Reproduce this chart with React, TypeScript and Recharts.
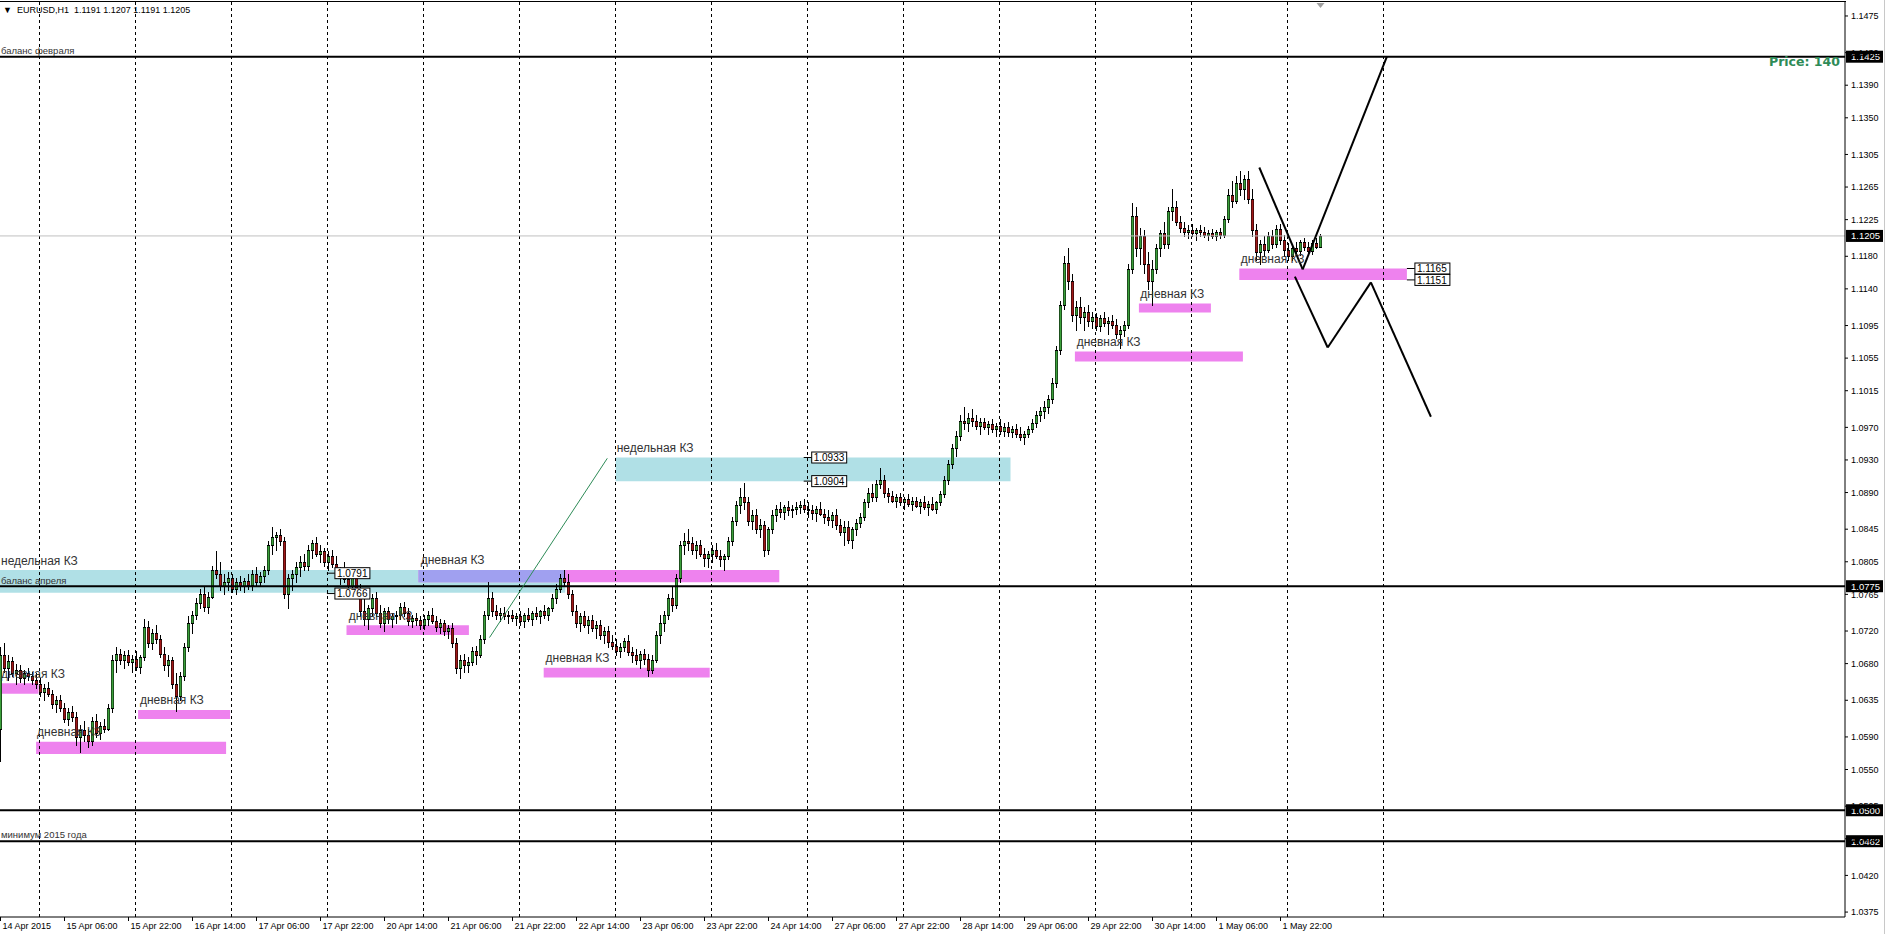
import React from 'react';
import { ComposedChart, Bar, XAxis, YAxis, ReferenceLine, ReferenceArea, ReferenceDot } from 'recharts';

const FONT = "'Liberation Sans', Arial, sans-serif";

// OHLC per hourly bar, in pips above 1.0000 : [open, high, low, close]
const apr14 = [[600,700,560,690],[690,705,670,675],[675,690,660,683],[683,688,665,668],[668,680,655,672],[672,678,658,662],[662,672,655,668],[668,675,660,665],[665,670,655,660],[660,668,650,655]];
const apr15 = [[655,662,640,645],[645,655,635,650],[650,658,640,643],[643,648,625,630],[630,640,620,635],[635,642,622,626],[626,632,608,612],[612,625,605,620],[620,628,610,615],[615,620,580,590],[590,605,572,598],[598,610,585,592],[592,600,578,585],[585,615,580,610],[610,618,590,595],[595,608,588,604],[604,612,596,600],[600,630,598,625],[625,690,620,685],[685,700,670,692],[692,698,680,685],[685,695,675,690],[690,697,678,682],[682,690,670,686]];
const apr16 = [[686,695,672,676],[676,690,668,688],[688,735,685,725],[725,732,700,705],[705,722,698,718],[718,728,705,710],[710,715,688,692],[692,700,672,678],[678,690,665,684],[684,688,650,655],[655,668,622,640],[640,670,635,665],[665,705,660,700],[700,738,695,730],[730,745,718,740],[740,760,735,755],[755,772,748,765],[765,775,745,750],[750,768,742,762],[762,800,760,795],[795,818,785,790],[790,805,770,775],[775,790,765,780],[780,792,770,785]];
const apr17 = [[785,790,768,772],[772,785,765,780],[780,788,770,775],[775,785,768,782],[782,790,772,776],[776,795,770,790],[790,798,775,780],[780,792,775,788],[788,800,780,795],[795,830,790,825],[825,848,815,835],[835,842,820,838],[838,845,825,830],[830,835,760,765],[765,790,748,785],[785,795,770,790],[790,805,780,798],[798,812,788,805],[805,815,795,800],[800,825,795,820],[820,832,810,828],[828,835,812,815],[815,825,805,818],[818,822,800,805]];
const apr20 = [[805,818,795,812],[812,820,798,802],[802,812,785,790],[790,798,778,795],[795,805,780,784],[784,792,770,775],[775,790,768,788],[788,795,765,770],[770,778,740,745],[745,760,728,735],[735,752,722,748],[748,765,740,760],[760,768,738,742],[742,752,725,730],[730,748,720,745],[745,750,730,735],[735,742,725,738],[738,745,730,740],[740,755,735,750],[750,756,738,742],[742,748,728,732],[732,740,725,736],[736,742,728,733],[733,738,722,728]];
const apr21 = [[728,740,722,735],[735,745,728,740],[740,748,730,732],[732,738,720,725],[725,735,718,730],[730,734,715,720],[720,728,712,724],[724,730,700,705],[705,712,668,675],[675,690,662,685],[685,692,670,678],[678,688,670,682],[682,700,678,695],[695,702,680,690],[690,715,688,710],[710,745,705,740],[740,780,735,760],[760,768,738,745],[745,752,735,740],[740,748,732,742],[742,750,735,738],[738,745,730,740],[740,746,732,736],[736,742,728,738]];
const apr22 = [[738,745,728,732],[732,742,725,740],[740,748,732,735],[735,745,728,742],[742,750,735,738],[738,746,730,744],[744,752,736,740],[740,750,734,748],[748,765,745,760],[760,778,755,772],[772,790,768,785],[785,795,775,780],[780,790,760,765],[765,770,740,745],[745,752,725,730],[730,742,720,738],[738,745,725,728],[728,738,718,734],[734,740,720,724],[724,732,712,728],[728,734,710,715],[715,725,705,720],[720,726,700,706],[706,715,698,702]];
const apr23 = [[702,710,690,695],[695,705,688,700],[700,712,695,708],[708,715,690,694],[694,700,682,690],[690,698,680,685],[685,695,675,692],[692,698,680,686],[686,692,665,672],[672,690,668,685],[685,720,682,715],[715,740,705,730],[730,745,720,740],[740,765,735,760],[760,775,745,752],[752,790,748,785],[785,830,780,825],[825,840,815,830],[830,845,820,828],[828,835,815,820],[820,830,810,825],[825,832,812,815],[815,822,800,810],[810,818,798,815]];
const apr24 = [[815,825,805,820],[820,828,810,812],[812,820,800,808],[808,815,795,812],[812,835,808,830],[830,860,825,855],[855,880,850,875],[875,895,865,885],[885,902,870,878],[878,885,850,855],[855,868,845,862],[862,870,840,845],[845,858,835,850],[850,855,812,820],[820,848,815,845],[845,868,840,862],[862,875,855,870],[870,878,860,866],[866,875,858,872],[872,880,862,868],[868,875,860,870],[870,878,864,872],[872,880,865,875],[875,882,866,870]];
const apr27 = [[870,878,860,868],[868,875,858,865],[865,874,855,870],[870,878,862,864],[864,870,852,860],[860,868,850,856],[856,866,848,862],[862,870,845,850],[850,858,838,842],[842,855,825,848],[848,855,828,832],[832,848,822,845],[845,858,838,852],[852,865,848,860],[860,882,856,878],[878,895,872,890],[890,900,880,885],[885,905,880,900],[900,920,895,905],[905,912,885,890],[890,896,878,886],[886,892,878,880],[880,888,872,885],[885,890,875,878]];
const apr28 = [[878,885,870,882],[882,888,874,876],[876,884,868,880],[880,885,872,874],[874,882,865,878],[878,886,870,872],[872,880,862,876],[876,884,868,870],[870,880,865,878],[878,892,875,888],[888,910,885,905],[905,930,900,925],[925,950,920,945],[945,965,935,960],[960,985,955,978],[978,995,968,975],[975,988,965,982],[982,992,972,978],[978,985,968,972],[972,982,962,976],[976,982,968,970],[970,978,962,974],[974,980,964,968],[968,975,960,972]];
const apr29 = [[972,980,962,966],[966,975,960,970],[970,976,960,964],[964,972,958,968],[968,974,958,962],[962,970,955,958],[958,966,950,962],[962,972,958,968],[968,980,964,975],[975,990,970,985],[985,995,978,990],[990,1002,982,995],[995,1010,988,1005],[1005,1030,1000,1025],[1025,1070,1020,1065],[1065,1125,1060,1120],[1120,1180,1115,1172],[1172,1190,1140,1150],[1150,1158,1100,1108],[1108,1125,1090,1118],[1118,1130,1098,1105],[1105,1118,1090,1112],[1112,1120,1095,1100],[1100,1112,1092,1106]];
const apr30 = [[1106,1110,1090,1095],[1095,1108,1088,1104],[1104,1112,1095,1098],[1098,1105,1085,1100],[1100,1108,1092,1096],[1096,1103,1080,1085],[1085,1095,1068,1090],[1090,1100,1082,1096],[1096,1170,1092,1165],[1165,1245,1160,1230],[1230,1240,1180,1190],[1190,1215,1170,1205],[1205,1212,1160,1170],[1170,1185,1140,1150],[1150,1175,1120,1165],[1165,1195,1160,1190],[1190,1212,1180,1208],[1208,1222,1190,1195],[1195,1240,1190,1235],[1235,1262,1225,1240],[1240,1248,1218,1222],[1222,1230,1210,1215],[1215,1222,1205,1210],[1210,1218,1202,1212]];
const may01 = [[1212,1220,1205,1208],[1208,1215,1200,1212],[1212,1218,1205,1210],[1210,1216,1204,1206],[1206,1212,1200,1208],[1208,1214,1202,1205],[1205,1212,1200,1210],[1210,1215,1203,1206],[1206,1230,1204,1226],[1226,1262,1222,1255],[1255,1272,1240,1248],[1248,1278,1245,1270],[1270,1285,1255,1262],[1262,1280,1250,1275],[1275,1285,1245,1250],[1250,1262,1205,1212],[1212,1220,1175,1185],[1185,1200,1170,1195],[1195,1205,1180,1188],[1188,1210,1185,1205],[1205,1212,1190,1195],[1195,1218,1192,1214],[1214,1220,1195,1200],[1200,1206,1180,1188]];
const may04 = [[1188,1196,1175,1180],[1180,1192,1176,1190],[1190,1198,1184,1186],[1186,1200,1182,1197],[1197,1202,1188,1192],[1192,1198,1184,1186],[1186,1200,1183,1196],[1196,1202,1190,1191],[1191,1207,1191,1205]];

const dayBlocks = [apr14, apr15, apr16, apr17, apr20, apr21, apr22, apr23, apr24, apr27, apr28, apr29, apr30, may01, may04];
const candles = dayBlocks.flat().map((b, i) => ({ i, o: 1 + b[0] / 10000, h: 1 + b[1] / 10000, l: 1 + b[2] / 10000, c: 1 + b[3] / 10000 }));

const xLabels = ['14 Apr 2015', '15 Apr 06:00', '15 Apr 22:00', '16 Apr 14:00', '17 Apr 06:00', '17 Apr 22:00', '20 Apr 14:00', '21 Apr 06:00', '21 Apr 22:00', '22 Apr 14:00', '23 Apr 06:00', '23 Apr 22:00', '24 Apr 14:00', '27 Apr 06:00', '27 Apr 22:00', '28 Apr 14:00', '29 Apr 06:00', '29 Apr 22:00', '30 Apr 14:00', '1 May 06:00', '1 May 22:00'];
const xLabelBars = [0, 16, 32, 48, 64, 80, 96, 112, 128, 144, 160, 176, 192, 208, 224, 240, 256, 272, 288, 304, 320];
const daySeparators = [9.75, 33.75, 57.75, 81.75, 105.75, 129.75, 153.75, 177.75, 201.75, 225.75, 249.75, 273.75, 297.75, 321.75, 345.75];
const yTicks = [1.1475, 1.143, 1.139, 1.135, 1.1305, 1.1265, 1.1225, 1.118, 1.114, 1.1095, 1.1055, 1.1015, 1.097, 1.093, 1.089, 1.0845, 1.0805, 1.0765, 1.072, 1.068, 1.0635, 1.059, 1.055, 1.0505, 1.0465, 1.042, 1.0375];

const xDomain = [-0.125, 461.125];
const yDomain = [1.036895, 1.149215];

const priceLines = [1.1425, 1.0775, 1.05, 1.0462];
const currentPrice = 1.1205;

const CYAN = '#B0E0E6';
const VIOLET = '#EE82EE';
const weeklyZones = [
  { x1: -0.125, x2: 141.2, y1: 1.0767, y2: 1.0795 },
  { x1: 153.8, x2: 252.5, y1: 1.0904, y2: 1.0933 },
];
const dailyZones = [
  { x1: -0.125, x2: 9.5, y1: 1.0643, y2: 1.0656 },
  { x1: 8.9, x2: 56.4, y1: 1.0569, y2: 1.0584 },
  { x1: 34.4, x2: 57.4, y1: 1.0612, y2: 1.0623 },
  { x1: 86.5, x2: 117.1, y1: 1.0715, y2: 1.0727 },
  { x1: 104.5, x2: 194.7, y1: 1.078, y2: 1.0795 },
  { x1: 135.8, x2: 177.3, y1: 1.0663, y2: 1.0675 },
  { x1: 268.6, x2: 310.6, y1: 1.1051, y2: 1.1063 },
  { x1: 284.6, x2: 302.6, y1: 1.1111, y2: 1.1122 },
  { x1: 309.7, x2: 351.6, y1: 1.1151, y2: 1.1165 },
];

const notes = [
  { x: -0.125, y: 1.1428, text: 'баланс февраля', size: 9.5 },
  { x: -0.125, y: 1.0778, text: 'баланс апреля', size: 9.5 },
  { x: -0.125, y: 1.0466, text: 'минимум 2015 года', size: 9.5 },
  { x: -0.125, y: 1.0801, text: 'недельная КЗ', size: 12 },
  { x: 153.8, y: 1.094, text: 'недельная КЗ', size: 12 },
  { x: -0.125, y: 1.0662, text: 'дневная КЗ', size: 12 },
  { x: 8.9, y: 1.0591, text: 'дневная КЗ', size: 12 },
  { x: 34.6, y: 1.063, text: 'дневная КЗ', size: 12 },
  { x: 86.8, y: 1.0734, text: 'дневная КЗ', size: 12 },
  { x: 104.8, y: 1.0802, text: 'дневная КЗ', size: 12 },
  { x: 136, y: 1.0682, text: 'дневная КЗ', size: 12 },
  { x: 268.8, y: 1.107, text: 'дневная КЗ', size: 12 },
  { x: 284.7, y: 1.1129, text: 'дневная КЗ', size: 12 },
  { x: 309.8, y: 1.1172, text: 'дневная КЗ', size: 12 },
];

const priceTags = [
  { x: 81.6, y: 1.0791, text: '1.0791' },
  { x: 81.6, y: 1.0766, text: '1.0766' },
  { x: 200.8, y: 1.0933, text: '1.0933' },
  { x: 200.8, y: 1.0904, text: '1.0904' },
  { x: 351.6, y: 1.1165, text: '1.1165' },
  { x: 351.6, y: 1.1151, text: '1.1151' },
];

const forecastUp = [[314.7, 1.1289], [325.55, 1.1164], [346.6, 1.1425]];
const forecastDown = [[323.6, 1.1155], [331.8, 1.1068], [342.6, 1.1148], [357.6, 1.0983]];
const greenTrend = [[122.25, 1.0712], [151.7, 1.0932]];

const toSegments = (pts: number[][]) => pts.slice(1).map((p, k) => [{ x: pts[k][0], y: pts[k][1] }, { x: p[0], y: p[1] }]);

const overlap = {
  x1: Math.max(weeklyZones[0].x1, dailyZones[4].x1),
  x2: Math.min(weeklyZones[0].x2, dailyZones[4].x2),
  y1: Math.max(weeklyZones[0].y1, dailyZones[4].y1),
  y2: Math.min(weeklyZones[0].y2, dailyZones[4].y2),
};

const UP = '#3aa03a';
const DOWN = '#a01818';

const Candle = (props: any) => {
  const { x, y, width, height, payload } = props;
  if (!payload) return null;
  const top = Math.min(y, y + height);
  const hpx = Math.abs(height);
  const span = payload.h - payload.l;
  const py = (p: number) => (span > 0 ? top + ((payload.h - p) / span) * hpx : top);
  const cx = Math.round(x + width / 2) + 0.5;
  const yo = py(payload.o);
  const yc = py(payload.c);
  const bull = payload.c >= payload.o;
  const bt = Math.round(Math.min(yo, yc));
  const bb = Math.round(Math.max(yo, yc));
  const bh = Math.max(1, bb - bt);
  return (
    <g>
      <line x1={cx} x2={cx} y1={Math.round(top)} y2={Math.round(top + hpx) + 1} stroke="#000" strokeWidth={1} />
      <rect x={cx - 1.5} y={bt} width={3} height={bh + 1} fill="#000" />
      {bh > 1 && <rect x={cx - 1} y={bt + 1} width={2} height={bh - 1} fill={bull ? UP : DOWN} />}
    </g>
  );
};

const XTick = (p: any) => {
  const { x, y, payload } = p;
  const k = xLabelBars.indexOf(payload.value);
  return (
    <text x={x + 2} y={y} dy="0.72em" fontSize={9} fontFamily={FONT} fill="#000">{xLabels[k]}</text>
  );
};

const axisTag = (text: string) => (p: any) => {
  const vb = p.viewBox || {};
  const x = (vb.x || 0) + (vb.width || 0);
  const y = vb.y || 0;
  return (
    <g>
      <rect x={x + 1} y={y - 6} width={37} height={12} fill="#000" />
      <text x={x + 6} y={y} dy="0.35em" fontSize={9.5} fontFamily={FONT} fill="#fff">{text}</text>
    </g>
  );
};

const noteShape = (text: string, size: number) => (p: any) => (
  <text x={p.cx + 1} y={p.cy} fontSize={size} fontFamily={FONT} fill="#333">{text}</text>
);

const tagShape = (text: string) => (p: any) => (
  <g>
    <line x1={p.cx} x2={p.cx + 8} y1={p.cy} y2={p.cy} stroke="#000" />
    <rect x={p.cx + 8} y={p.cy - 5.5} width={35} height={11} fill="#fff" stroke="#000" />
    <text x={p.cx + 10} y={p.cy} dy="0.36em" fontSize={10} fontFamily={FONT} fill="#000">{text}</text>
  </g>
);

const shiftMarker = (p: any) => (
  <polygon points={`${p.cx - 4},${p.cy + 1} ${p.cx + 4},${p.cy + 1} ${p.cx},${p.cy + 6}`} fill="#a0a0a0" />
);

export default function App() {
  return (
    <div style={{ position: 'absolute', left: 0, top: 0, width: 1886, height: 934, background: '#fff', overflow: 'hidden' }}>
      <ComposedChart width={1886} height={934} data={candles} margin={{ top: 2, right: 0, bottom: 0, left: 0 }}>
        <XAxis dataKey="i" type="number" domain={xDomain} allowDataOverflow ticks={xLabelBars} interval={0}
          height={17} tickSize={4} tickMargin={2} axisLine={{ stroke: '#000' }} tickLine={{ stroke: '#000' }} tick={<XTick />} />
        <YAxis orientation="right" type="number" domain={yDomain} allowDataOverflow ticks={yTicks} interval={0} width={41}
          tickSize={3} tickMargin={3} axisLine={{ stroke: '#000' }} tickLine={{ stroke: '#000' }}
          tickFormatter={(v: number) => v.toFixed(4)}
          tick={{ fontSize: 9, fontFamily: FONT, fill: '#000' }} />
        {weeklyZones.map((z, k) => (
          <ReferenceArea key={'w' + k} x1={z.x1} x2={z.x2} y1={z.y1} y2={z.y2} fill={CYAN} fillOpacity={1} stroke="none" ifOverflow="hidden" />
        ))}
        {dailyZones.map((z, k) => (
          <ReferenceArea key={'d' + k} x1={z.x1} x2={z.x2} y1={z.y1} y2={z.y2} fill={VIOLET} fillOpacity={1} stroke="none" ifOverflow="hidden" />
        ))}
        <ReferenceArea x1={overlap.x1} x2={overlap.x2} y1={overlap.y1} y2={overlap.y2} fill="#a0a0f0" fillOpacity={1} stroke="none" ifOverflow="hidden" />
        {daySeparators.map((d) => (
          <ReferenceLine key={'s' + d} x={d} stroke="#000" strokeDasharray="3 3" strokeWidth={1} />
        ))}
        <ReferenceLine y={currentPrice} stroke="#c0c0c0" strokeWidth={1} label={axisTag(currentPrice.toFixed(4))} />
        <Bar dataKey={(d: any) => [d.l, d.h]} shape={Candle} isAnimationActive={false} barSize={3} />
        {priceLines.map((p) => (
          <ReferenceLine key={'p' + p} y={p} stroke="#000" strokeWidth={2} label={axisTag(p.toFixed(4))} />
        ))}
        {toSegments(greenTrend).map((s, k) => (
          <ReferenceLine key={'g' + k} segment={s} stroke="#2e8b57" strokeWidth={1} ifOverflow="visible" />
        ))}
        {toSegments(forecastUp).map((s, k) => (
          <ReferenceLine key={'u' + k} segment={s} stroke="#000" strokeWidth={2} ifOverflow="visible" />
        ))}
        {toSegments(forecastDown).map((s, k) => (
          <ReferenceLine key={'f' + k} segment={s} stroke="#000" strokeWidth={2} ifOverflow="visible" />
        ))}
        {notes.map((n, k) => (
          <ReferenceDot key={'n' + k} x={n.x} y={n.y} r={1} ifOverflow="visible" shape={noteShape(n.text, n.size)} />
        ))}
        {priceTags.map((t, k) => (
          <ReferenceDot key={'t' + k} x={t.x} y={t.y} r={1} ifOverflow="visible" shape={tagShape(t.text)} />
        ))}
        <ReferenceDot x={candles[candles.length - 1].i} y={yDomain[1]} r={1} ifOverflow="visible" shape={shiftMarker} />
      </ComposedChart>
      <div style={{ position: 'absolute', left: 0, top: 1, width: 1846, height: 1, background: '#000' }} />
      <div style={{ position: 'absolute', left: 1884, top: 0, width: 1, height: 934, background: '#c8c8c8' }} />
      <div style={{ position: 'absolute', left: 3, top: 4, fontFamily: FONT, fontSize: 9, whiteSpace: 'pre', color: '#000', lineHeight: '12px' }}>
        {'▼  EURUSD,H1  1.1191 1.1207 1.1191 1.1205'}
      </div>
      <div style={{ position: 'absolute', left: 1769, top: 54, fontFamily: "'DejaVu Sans', sans-serif", fontWeight: 'bold', fontSize: 12.5, color: '#2e8b57', lineHeight: '15px' }}>
        Price: 140
      </div>
    </div>
  );
}
